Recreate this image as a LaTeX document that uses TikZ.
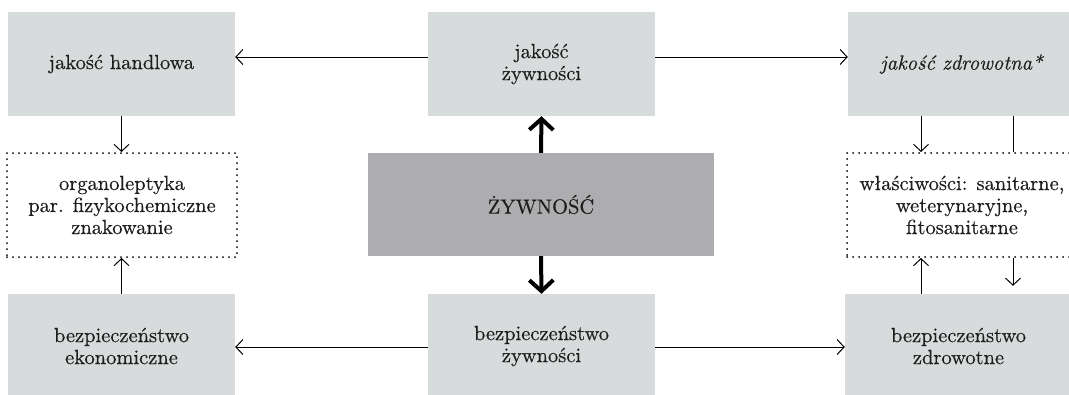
\documentclass[tikz,border=0pt]{standalone}
\usepackage{fontspec}
\setmainfont{lmroman10-regular.otf}[ItalicFont=lmroman10-italic.otf, FakeBold=0.4]
\usetikzlibrary{arrows.meta}
\definecolor{boxgray}{RGB}{216,219,220}
\definecolor{midgray}{RGB}{173,173,176}
\definecolor{txtcol}{RGB}{30,30,30}
\tikzset{
  txt/.style={align=center, inner sep=0pt, text=txtcol, font=\fontsize{20.5}{22}\selectfont},
  gbox/.style={txt, fill=boxgray, minimum width=227pt, minimum height=104pt},
  cbox/.style={txt, fill=midgray, minimum width=346pt, minimum height=103pt},
  dbox/.style={txt, draw=black, line width=2pt, dash pattern=on 0pt off 6pt, line cap=round, minimum width=230pt, minimum height=104pt},
  thinarrow/.style={line width=1pt, -{Straight Barb[length=7pt,width=15pt]}},
  thinline/.style={line width=1pt},
  thickarrow/.style={line width=4pt, -{Straight Barb[length=11pt,width=24pt]}}
}
\begin{document}
\begin{tikzpicture}[x=1pt,y=-1pt]
\clip (0,0) rectangle (1069,394);
\fill[white] (0,0) rectangle (1069,394);
% top row
\node[gbox] (jh) at (121.5,64) {jakość handlowa};
\node[gbox] (jz) at (541.5,64) {jakość\\żywności};
\node[gbox] (jzd) at (961.5,64) {\itshape jakość zdrowotna*};
% middle row
\node[dbox] (dl) at (122,205) {organoleptyka\\par. fizykochemiczne\\znakowanie};
\node[cbox] (zyw) at (541,204.5) {ŻYWNOŚĆ};
\node[dbox] (dr) at (962,205) {właściwości: sanitarne,\\weterynaryjne,\\fitosanitarne};
% bottom row
\node[gbox] (be) at (121.5,346) {bezpieczeństwo\\ekonomiczne};
\node[gbox] (bzy) at (541.5,346) {bezpieczeństwo\\żywności};
\node[gbox] (bz) at (958.5,346) {bezpieczeństwo\\zdrowotne};
% horizontal arrows
\draw[thinarrow] ([yshift=7pt]jz.west) -- ([yshift=7pt]jh.east);
\draw[thinarrow] ([yshift=7pt]jz.east) -- ([yshift=7pt]jzd.west);
\draw[thinarrow] ([yshift=-1pt]bzy.west) -- ([yshift=-1pt]be.east);
\draw[thinarrow] ([yshift=-1pt]bzy.east) -- ([yshift=-1pt]bz.west);
% left vertical arrows
\draw[thinarrow] (jh.south) -- (jh.south |- dl.north);
\draw[thinarrow] (be.north) -- (be.north |- dl.south);
% right vertical connectors
\coordinate (rl) at ([xshift=-40.5pt]jzd.south);
\coordinate (rr) at ([xshift=51.5pt]jzd.south);
\coordinate (rb) at ([yshift=8pt]bz.north);
\draw[thinarrow] (rl) -- (rl |- dr.north);
\draw[thinline] (rr) -- (rr |- dr.north);
\draw[thinarrow] (rl |- bz.north) -- (rl |- dr.south);
\draw[thinarrow] (rr |- dr.south) -- (rr |- rb);
% thick arrows
\draw[thickarrow] (zyw.north) -- (jz.south);
\draw[thickarrow] (zyw.south) -- (bzy.north);
\end{tikzpicture}
\end{document}
